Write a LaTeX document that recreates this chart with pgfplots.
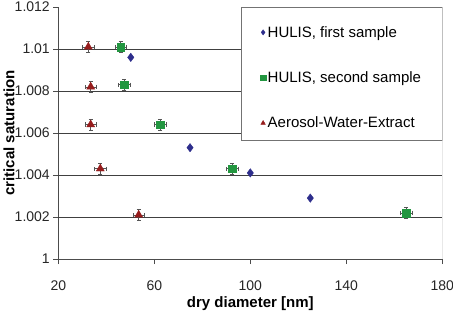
\documentclass[border=0pt]{standalone}
\usepackage{pgfplots}
\usepackage{pgfplotstable}
\pgfplotsset{compat=1.18}
\usepackage{fontspec}
\setmainfont{Liberation Sans}
\setsansfont{Liberation Sans}

\definecolor{hulisone}{RGB}{46,46,140}
\definecolor{hulistwo}{RGB}{34,150,64}
\definecolor{awe}{RGB}{150,28,28}
\definecolor{errcol}{RGB}{85,85,85}

% HULIS, first sample (no error bars)
\pgfplotstableread{
x     y
50.2  1.0096
74.9  1.0053
100   1.0041
125   1.0029
}\hulisfirst

% HULIS, second sample
\pgfplotstableread{
x     y       ex   ey
46.0  1.0101  2.4  0.00027
47.5  1.0083  2.4  0.00027
62.4  1.0064  2.4  0.00027
92.4  1.0043  2.4  0.00027
164.9 1.0022  2.4  0.00027
}\hulissecond

% Aerosol-Water-Extract
\pgfplotstableread{
x     y       ex   ey
32.5  1.0101  2.4  0.00027
33.5  1.0082  2.4  0.00027
33.5  1.0064  2.4  0.00027
37.5  1.0043  2.4  0.00027
53.5  1.0021  2.4  0.00027
}\awe

\begin{document}
\begin{tikzpicture}
\path[use as bounding box] (-58.3bp,-60bp) rectangle (394.7bp,259bp);
\begin{axis}[
  scale only axis, width=384bp, height=252bp,
  xmin=20, xmax=180, ymin=1, ymax=1.012,
  xtick={20,60,100,140,180},
  ytick={1,1.002,1.004,1.006,1.008,1.01,1.012},
  /pgf/number format/assume math mode=true,
  yticklabel style={/pgf/number format/fixed, /pgf/number format/precision=3},
  ticklabel style={font=\fontsize{14bp}{16bp}\selectfont, text=black!85},
  xticklabel style={yshift=-13bp},
  axis x line*=bottom, axis y line*=left,
  axis line style={-, black!70, line width=0.8pt},
  tick align=outside, major tick length=5bp,
  tick style={black!70, line width=0.8pt},
  extra y ticks={1.002,1.004,1.006,1.008,1.01},
  extra y tick labels={},
  extra y tick style={grid=major, major tick length=0pt,
    major grid style={black!75, line width=0.7pt}},
  xlabel={\textbf{dry diameter [nm]}},
  ylabel={\textbf{critical saturation}},
  label style={font=\fontsize{15bp}{18bp}\selectfont},
  xlabel style={at={(axis description cs:0.5,0)}, anchor=base, yshift=-48bp},
  ylabel style={at={(axis description cs:0,0.5)}, anchor=base, yshift=44bp},
  legend style={at={(1,1)}, anchor=north east, xshift=-6bp, yshift=-3bp,
    draw=none, fill=none,
    font=\fontsize{15bp}{18bp}\selectfont, inner xsep=13bp, inner ysep=14bp,
    row sep=29bp, cells={anchor=west}},
  legend cell align=left,
  legend image code/.code={%
    \path (-12bp,0bp) (2bp,0bp);
    \draw[#1, mark size=2.6bp] plot coordinates {(0bp,0bp)};},
]
% frame on the right and the white legend panel over the grid
\draw[black!25, line width=0.8pt] (rel axis cs:1,0) -- (rel axis cs:1,1);
\draw[black!55, line width=0.8pt, fill=white]
  (rel axis cs:0.4758,0.4722) rectangle (rel axis cs:1,1);

\addplot[only marks, mark=diamond*, mark size=4.2bp,
  mark options={draw=hulisone, fill=hulisone}]
  table[x=x, y=y] {\hulisfirst};
\addlegendentry{HULIS, first sample}

\addplot[only marks, mark=square*, mark size=3.9bp,
  mark options={draw=hulistwo, fill=hulistwo},
  error bars/.cd, x dir=both, x explicit, y dir=both, y explicit,
  error bar style={errcol, line width=0.5pt},
  error mark options={rotate=90, errcol, mark size=2.1bp, line width=0.5pt}]
  table[x=x, y=y, x error=ex, y error=ey] {\hulissecond};
\addlegendentry{HULIS, second sample}

\addplot[only marks, mark=triangle*, mark size=4.6bp,
  mark options={draw=awe, fill=awe},
  error bars/.cd, x dir=both, x explicit, y dir=both, y explicit,
  error bar style={errcol, line width=0.5pt},
  error mark options={rotate=90, errcol, mark size=2.1bp, line width=0.5pt}]
  table[x=x, y=y, x error=ex, y error=ey] {\awe};
\addlegendentry{Aerosol-Water-Extract}
\end{axis}
\end{tikzpicture}
\end{document}
